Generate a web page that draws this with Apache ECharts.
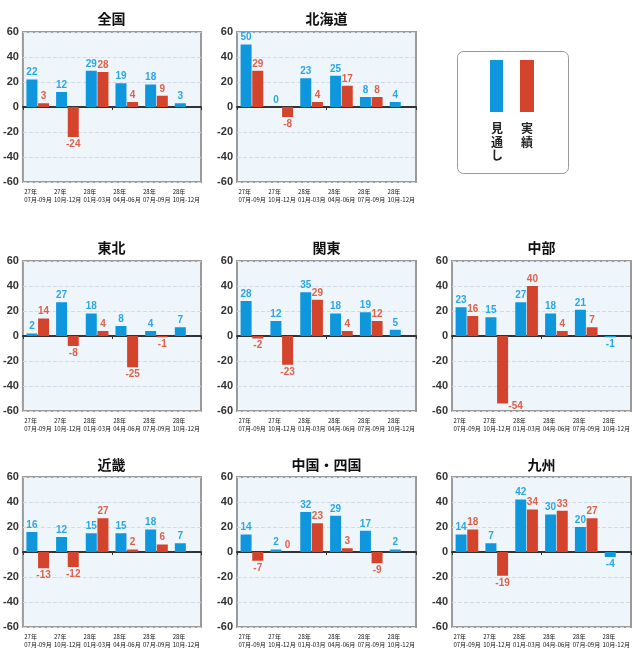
<!DOCTYPE html>
<html><head><meta charset="utf-8">
<script src="https://cdn.jsdelivr.net/npm/echarts@6/dist/echarts.min.js"></script>
<style>html,body{margin:0;padding:0;background:#fff}#c{width:640px;height:666px}</style>
</head><body><div id="c"></div>
<script>
// ---- data ----
const years = ['27年','27年','28年','28年','28年','28年'];
const months = ['07月-09月','10月-12月','01月-03月','04月-06月','07月-09月','10月-12月'];
const regions = ['全国','北海道','東北','関東','中部','近畿','中国・四国','九州'];
const legendNames = ['見通し','実績'];
// 見通し (forecast)
const mitoshi_zenkoku = [22,12,29,19,18,3];
const mitoshi_hokkaido = [50,0,23,25,8,4];
const mitoshi_tohoku = [2,27,18,8,4,7];
const mitoshi_kanto = [28,12,35,18,19,5];
const mitoshi_chubu = [23,15,27,18,21,-1];
const mitoshi_kinki = [16,12,15,15,18,7];
const mitoshi_chugoku = [14,2,32,29,17,2];
const mitoshi_kyushu = [14,7,42,30,20,-4];
// 実績 (actual)
const jisseki_zenkoku = [3,-24,28,4,9,null];
const jisseki_hokkaido = [29,-8,4,17,8,null];
const jisseki_tohoku = [14,-8,4,-25,-1,null];
const jisseki_kanto = [-2,-23,29,4,12,null];
const jisseki_chubu = [16,-54,40,4,7,null];
const jisseki_kinki = [-13,-12,27,2,6,null];
const jisseki_chugoku = [-7,0,23,3,-9,null];
const jisseki_kyushu = [18,-19,34,33,27,null];
const yTicks = [-60,-40,-20,0,20,40,60];

const mitoshi = [mitoshi_zenkoku,mitoshi_hokkaido,mitoshi_tohoku,mitoshi_kanto,mitoshi_chubu,mitoshi_kinki,mitoshi_chugoku,mitoshi_kyushu];
const jisseki = [jisseki_zenkoku,jisseki_hokkaido,jisseki_tohoku,jisseki_kanto,jisseki_chubu,jisseki_kinki,jisseki_chugoku,jisseki_kyushu];

// ---- layout ----
const pos = [[22,32],[237,32],[22,261],[237,261],[452,261],[22,477],[237,477],[452,477]];
const titleY = [19,19,248,248,248,465,465,465];
const W = 179, H = 150;
const BLUE = '#0f97de', RED = '#d4432b', BLUE_T = '#2aa7e8', RED_T = '#e0604a';
const NUMFONT = '"Liberation Sans", Arial, sans-serif';
const JPFONT = '"Noto Sans CJK JP", sans-serif';

const cats = years.map((y,i)=>y+'\n'+months[i]);

function items(arr){
  return arr.map(v=>{
    if (v === null) return null;
    const lab = {position: v < 0 ? 'bottom' : 'top'};
    if (v < -45) { lab.offset = [13,-4]; }
    return {value: v, label: lab};
  });
}

const option = {animation:false, backgroundColor:'#fff', grid:[], xAxis:[], yAxis:[], series:[], graphic:[]};

regions.forEach((r,i)=>{
  const [l,t] = pos[i];
  option.grid.push({left:l, top:t, width:W, height:H, show:true, backgroundColor:'#eef6fb', borderColor:'#9a9a9a', borderWidth:2});
  option.xAxis.push({type:'category', gridIndex:i, data:cats,
    axisLine:{onZero:true, lineStyle:{color:'#333', width:2}},
    axisTick:{show:true, length:3, lineStyle:{color:'#333', width:1}},
    axisLabel:{show:false}, splitLine:{show:false}});
  option.xAxis.push({type:'category', gridIndex:i, data:cats, position:'bottom',
    axisLine:{show:false, onZero:false}, axisTick:{show:false}, splitLine:{show:false},
    axisLabel:{interval:0, margin:6, hideOverlap:false,
      formatter:(v)=>{const p=v.split('\n'); return '{a|'+p[0]+'}\n{a|'+p[1]+'}';},
      rich:{a:{width:27, align:'left', fontSize:6, lineHeight:8, color:'#111', fontFamily:JPFONT}}}});
  option.yAxis.push({type:'value', gridIndex:i, min:yTicks[0], max:yTicks[yTicks.length-1], interval:20,
    axisLine:{show:false}, axisTick:{show:false},
    axisLabel:{margin:4, fontSize:11, fontWeight:'bold', color:'#333', fontFamily:NUMFONT},
    splitLine:{lineStyle:{type:'dashed', color:'#d3dbe8', width:1}}});
  option.series.push({name:legendNames[0], type:'bar', xAxisIndex:2*i, yAxisIndex:i, data:items(mitoshi[i]),
    barWidth:11, barGap:'6%', itemStyle:{color:BLUE},
    label:{show:true, distance:2, color:BLUE_T, fontSize:10, fontWeight:'bold', fontFamily:NUMFONT}});
  option.series.push({name:legendNames[1], type:'bar', xAxisIndex:2*i, yAxisIndex:i, data:items(jisseki[i]),
    barWidth:11, barGap:'6%', itemStyle:{color:RED},
    label:{show:true, distance:2, color:RED_T, fontSize:10, fontWeight:'bold', fontFamily:NUMFONT}});
  option.graphic.push({type:'text', x:l+W/2, y:titleY[i], style:{text:r, align:'center', verticalAlign:'middle', font:'bold 14px '+JPFONT, fill:'#111'}});
});

// legend box
option.graphic.push({type:'rect', shape:{x:457.5, y:51.5, width:111, height:122, r:6}, style:{fill:'#fff', stroke:'#999', lineWidth:1}});
option.graphic.push({type:'rect', shape:{x:490, y:60, width:13, height:52}, style:{fill:BLUE}});
option.graphic.push({type:'rect', shape:{x:520, y:60, width:14, height:52}, style:{fill:RED}});
option.graphic.push({type:'text', x:497, y:122, style:{text:legendNames[0].split('').join('\n'), align:'center', verticalAlign:'top', font:'bold 12px '+JPFONT, lineHeight:13.5, fill:'#222'}});
option.graphic.push({type:'text', x:527, y:122, style:{text:legendNames[1].split('').join('\n'), align:'center', verticalAlign:'top', font:'bold 12px '+JPFONT, lineHeight:13.5, fill:'#222'}});

const chart = echarts.init(document.getElementById('c'), null, {renderer:'canvas'});
chart.setOption(option);
</script>
</body></html>
